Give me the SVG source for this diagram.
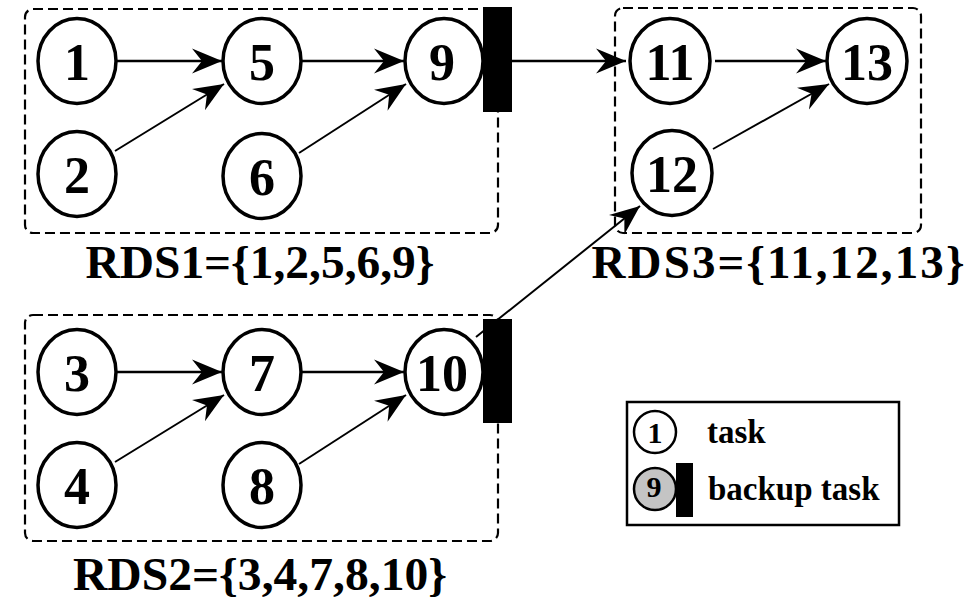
<svg xmlns="http://www.w3.org/2000/svg" width="976" height="603" viewBox="0 0 976 603">
  <style>
    .grp { fill: none; stroke: #000; stroke-width: 2.2; stroke-dasharray: 10 5; }
    .node { fill: #fff; stroke: #000; stroke-width: 3.5; }
    .num { font-family: "Liberation Serif", "Times New Roman", serif; font-weight: bold; font-size: 52px; text-anchor: middle; fill: #000; }
    .lbl { font-family: "Liberation Serif", "Times New Roman", serif; font-weight: bold; font-size: 47px; text-anchor: middle; fill: #000; }
    .leg { font-family: "Liberation Serif", "Times New Roman", serif; font-weight: bold; font-size: 33px; fill: #000; }
    .bar { fill: #000; }
    .edge { stroke: #000; stroke-width: 2.4; fill: none; marker-end: url(#head); }
    .diag { stroke-width: 2; }
  </style>
  <defs>
    <marker id="head" markerUnits="userSpaceOnUse" markerWidth="32" markerHeight="26" refX="30" refY="13" orient="auto">
      <path d="M0,0.5 L30,13 L0,25.5 L10,13 Z" fill="#000"/>
    </marker>
  </defs>

  <rect width="976" height="603" fill="#fff"/>

  <!-- group frames -->
  <g id="rds-frames">
    <rect class="grp" x="25" y="9" width="473" height="224" rx="8"/>
    <rect class="grp" x="25" y="315" width="473" height="226" rx="8"/>
    <rect class="grp" x="615" y="8" width="306" height="225" rx="8"/>
  </g>

  <!-- connectors -->
  <g id="connectors">
    <line class="edge" x1="117" y1="61" x2="222" y2="61"/>
    <line class="edge diag" x1="115" y1="151" x2="224" y2="84"/>
    <line class="edge" x1="302" y1="61" x2="404" y2="61"/>
    <line class="edge diag" x1="299" y1="153" x2="406" y2="84"/>
    <line class="edge" x1="512" y1="61" x2="626" y2="61"/>
    <line class="edge" x1="715" y1="61" x2="826" y2="61"/>
    <line class="edge diag" x1="713" y1="149" x2="829" y2="84"/>
    <line class="edge" x1="117" y1="372" x2="222" y2="372"/>
    <line class="edge diag" x1="115" y1="462" x2="224" y2="395"/>
    <line class="edge" x1="302" y1="372" x2="404" y2="372"/>
    <line class="edge diag" x1="299" y1="464" x2="406" y2="395"/>
    <line class="edge diag" x1="476" y1="337" x2="640" y2="206"/>
  </g>

  <!-- RDS1 tasks -->
  <g id="n1"><ellipse class="node" cx="77" cy="61" rx="39" ry="42.5"/><text class="num" x="77" y="80">1</text></g>
  <g id="n2"><ellipse class="node" cx="77" cy="174" rx="39" ry="42.5"/><text class="num" x="77" y="193">2</text></g>
  <g id="n5"><ellipse class="node" cx="262" cy="61" rx="39" ry="42.5"/><text class="num" x="262" y="80">5</text></g>
  <g id="n6"><ellipse class="node" cx="262" cy="176" rx="39" ry="42.5"/><text class="num" x="262" y="195">6</text></g>
  <g id="n9"><ellipse class="node" cx="444" cy="61" rx="39" ry="42.5"/><text class="num" x="442" y="80">9</text><rect class="bar" x="483" y="7" width="29" height="105"/></g>

  <!-- RDS2 tasks -->
  <g id="n3"><ellipse class="node" cx="77" cy="372" rx="39" ry="42.5"/><text class="num" x="77" y="391">3</text></g>
  <g id="n4"><ellipse class="node" cx="77" cy="485" rx="39" ry="42.5"/><text class="num" x="77" y="504">4</text></g>
  <g id="n7"><ellipse class="node" cx="262" cy="372" rx="39" ry="42.5"/><text class="num" x="262" y="391">7</text></g>
  <g id="n8"><ellipse class="node" cx="262" cy="485" rx="39" ry="42.5"/><text class="num" x="262" y="504">8</text></g>
  <g id="n10"><ellipse class="node" cx="444" cy="372" rx="39" ry="42.5"/><text class="num" x="442" y="391">10</text><rect class="bar" x="483" y="319" width="29" height="104"/></g>

  <!-- RDS3 tasks -->
  <g id="n11"><ellipse class="node" cx="670" cy="61" rx="40" ry="42.5"/><text class="num" x="670" y="80">11</text></g>
  <g id="n12"><ellipse class="node" cx="672" cy="173" rx="40" ry="42.5"/><text class="num" x="672" y="192">12</text></g>
  <g id="n13"><ellipse class="node" cx="867" cy="61" rx="40" ry="42.5"/><text class="num" x="867" y="80">13</text></g>

  <!-- set labels -->
  <g id="labels">
    <text class="lbl" x="260" y="278" textLength="349" lengthAdjust="spacingAndGlyphs">RDS1={1,2,5,6,9}</text>
    <text class="lbl" x="778" y="278" textLength="373" lengthAdjust="spacing">RDS3={11,12,13}</text>
    <text class="lbl" x="260" y="590" textLength="374" lengthAdjust="spacingAndGlyphs">RDS2={3,4,7,8,10}</text>
  </g>

  <!-- legend -->
  <g id="legend">
    <rect x="627" y="402" width="272" height="123" fill="#fff" stroke="#000" stroke-width="2.5"/>
    <circle cx="655" cy="432" r="21" fill="#fff" stroke="#000" stroke-width="2.5"/>
    <text class="num" x="655" y="443" style="font-size:30px">1</text>
    <text class="leg" x="707" y="443">task</text>
    <circle cx="655" cy="489" r="21" fill="#c4c4c4" stroke="#000" stroke-width="2.5"/>
    <text class="num" x="654" y="497" style="font-size:30px">9</text>
    <rect class="bar" x="676" y="463" width="17" height="54"/>
    <text class="leg" x="708" y="500">backup task</text>
  </g>
</svg>
